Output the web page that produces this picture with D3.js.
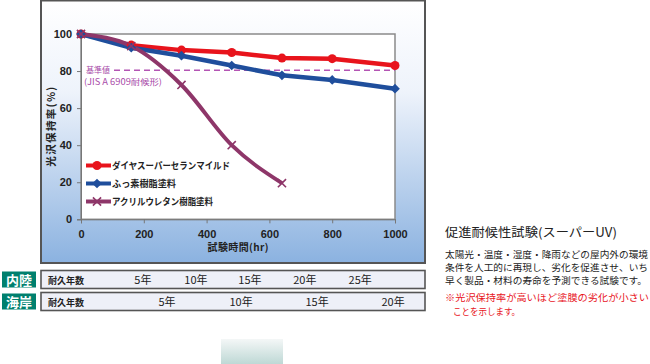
<!DOCTYPE html>
<html><head><meta charset="utf-8">
<script src="https://cdn.jsdelivr.net/npm/d3@7"></script>
<style>
html,body{margin:0;padding:0;background:#fff;}
svg{display:block;font-family:"Noto Sans CJK JP","Noto Sans",sans-serif;}
</style></head>
<body><svg id="c" width="650" height="364"></svg>
<script>
// ---- data ----
const hours = [0, 160, 320, 480, 640, 800, 1000];
const seriesNames = ["ダイヤスーパーセランマイルド", "ふっ素樹脂塗料", "アクリルウレタン樹脂塗料"];
const redValues = [100, 94, 91.3, 90, 87, 86.7, 83];
const blueValues = [100, 92.6, 88.3, 83, 77.7, 75.2, 70.5];
const purpleHours = [0, 160, 320, 480, 640];
const purpleValues = [100, 93.5, 72.5, 40, 19.5];
const xTicks = [0, 200, 400, 600, 800, 1000];
const yTicks = [0, 20, 40, 60, 80, 100];
const refValue = 80.4;
const inlandYears = ["5年", "10年", "15年", "20年", "25年"];
const inlandHours = [197, 366, 538, 713, 889];
const coastYears = ["5年", "10年", "15年", "20年"];
const coastHours = [274, 510, 752, 994];

const svg = d3.select("#c");
const defs = svg.append("defs");
const g1 = defs.append("linearGradient").attr("id","panelGrad").attr("x1",0).attr("y1",0).attr("x2",0).attr("y2",1);
g1.append("stop").attr("offset","0%").attr("stop-color","#ffffff");
g1.append("stop").attr("offset","35%").attr("stop-color","#eef3fb");
g1.append("stop").attr("offset","100%").attr("stop-color","#8bb2e0");
const g2 = defs.append("linearGradient").attr("id","grayGrad").attr("x1",0).attr("y1",0).attr("x2",0).attr("y2",1);
g2.append("stop").attr("offset","0%").attr("stop-color","#f4f7f7");
g2.append("stop").attr("offset","100%").attr("stop-color","#bed8d5");

// panel
svg.append("rect").attr("x",41).attr("y",0.5).attr("width",384).attr("height",262.5)
  .attr("fill","url(#panelGrad)").attr("stroke","#555").attr("stroke-width",2);

const x = d3.scaleLinear().domain([0,1000]).range([81,395]);
const y = d3.scaleLinear().domain([0,100]).range([219.3,34]);

// plot area
svg.append("rect").attr("x",x(0)).attr("y",y(100)).attr("width",x(1000)-x(0)).attr("height",y(0)-y(100))
  .attr("fill","#fff").attr("stroke","#8a8a8a").attr("stroke-width",1.5);

// axes
const yAxis = svg.append("g").attr("transform",`translate(${x(0)},0)`)
  .call(d3.axisLeft(y).tickValues(yTicks).tickFormat(d3.format("d")).tickSize(4).tickPadding(5));
const xAxis = svg.append("g").attr("transform",`translate(0,${y(0)})`)
  .call(d3.axisBottom(x).tickValues(xTicks).tickFormat(d3.format("d")).tickSize(4).tickPadding(7));
[yAxis,xAxis].forEach(a=>{
  a.select(".domain").attr("stroke","#777");
  a.selectAll(".tick line").attr("stroke","#777");
  a.selectAll(".tick text").attr("font-size",11).attr("font-weight","bold").attr("fill","#222")
    .attr("font-family","Arial, 'Liberation Sans', sans-serif");
});

// axis titles
svg.append("text").attr("transform",`translate(55,${(y(0)+y(100))/2}) rotate(-90)`)
  .attr("text-anchor","middle").attr("font-size",10.5).attr("font-weight","bold").attr("fill","#222")
  .attr("textLength",80).attr("lengthAdjust","spacing")
  .text("光沢保持率(%)");
svg.append("text").attr("x",(x(0)+x(1000))/2).attr("y",251).attr("text-anchor","middle")
  .attr("font-size",10).attr("font-weight","bold").attr("fill","#222")
  .attr("textLength",61).attr("lengthAdjust","spacing").text("試験時間(hr)");

// reference line
svg.append("line").attr("x1",114).attr("x2",x(1000)).attr("y1",y(refValue)).attr("y2",y(refValue))
  .attr("stroke","#b455b4").attr("stroke-width",1.6).attr("stroke-dasharray","6,4");
svg.append("text").attr("x",86).attr("y",y(refValue)+3).attr("font-size",8.5).attr("fill","#a84aa8")
  .attr("textLength",24).attr("lengthAdjust","spacingAndGlyphs").text("基準値");
svg.append("text").attr("x",84).attr("y",y(refValue)+14.3).attr("font-size",8.5).attr("fill","#a84aa8")
  .attr("textLength",78).attr("lengthAdjust","spacingAndGlyphs").text("(JIS A 6909耐候形)");

const red = "#e8141c", blue = "#1f4e9c", purple = "#8e3669";

// lines
const lineStraight = d3.line().x(d=>x(d[0])).y(d=>y(d[1]));
const lineCurve = d3.line().x(d=>x(d[0])).y(d=>y(d[1])).curve(d3.curveMonotoneX);
const blueData = hours.map((h,i)=>[h,blueValues[i]]);
const redData = hours.map((h,i)=>[h,redValues[i]]);
const purpleData = purpleHours.map((h,i)=>[h,purpleValues[i]]);

svg.append("path").attr("d",lineStraight(redData)).attr("fill","none").attr("stroke",red).attr("stroke-width",4.5).attr("stroke-linejoin","round");
svg.append("path").attr("d",lineStraight(blueData)).attr("fill","none").attr("stroke",blue).attr("stroke-width",4.5).attr("stroke-linejoin","round");
svg.append("path").attr("d",lineCurve(purpleData)).attr("fill","none").attr("stroke",purple).attr("stroke-width",4).attr("stroke-linejoin","round");

function circle(sel,cx,cy){ sel.append("circle").attr("cx",cx).attr("cy",cy).attr("r",4.5).attr("fill",red); }
function diamond(sel,cx,cy){ sel.append("path").attr("d",d3.symbol(d3.symbolDiamond2,60)()).attr("transform",`translate(${cx},${cy})`).attr("fill",blue); }
function cross(sel,cx,cy){ sel.append("path").attr("d",d3.symbol(d3.symbolTimes,45)()).attr("transform",`translate(${cx},${cy})`).attr("fill","none").attr("stroke",purple).attr("stroke-width",1.6); }

redData.forEach(d=>circle(svg,x(d[0]),y(d[1])));
blueData.forEach(d=>diamond(svg,x(d[0]),y(d[1])));
purpleData.forEach(d=>cross(svg,x(d[0]),y(d[1])));

// legend
const legY = [165.5, 183.5, 201.5];
const legColors = [red, blue, purple];
const legMarkers = [circle, diamond, cross];
const legWidths = [118, 64, 101];
seriesNames.forEach((n,i)=>{
  svg.append("line").attr("x1",86).attr("x2",111).attr("y1",legY[i]).attr("y2",legY[i]).attr("stroke",legColors[i]).attr("stroke-width",4);
  legMarkers[i](svg,97,legY[i]);
  svg.append("text").attr("x",112).attr("y",legY[i]+3.5).attr("font-size",9.5).attr("font-weight","bold").attr("fill","#222")
    .attr("textLength",legWidths[i]).attr("lengthAdjust","spacingAndGlyphs").text(n);
});

// durability rows
function row(y0, label, years, hrs){
  svg.append("rect").attr("x",2).attr("y",y0+1).attr("width",34).attr("height",16).attr("fill","#00806e");
  svg.append("text").attr("x",19).attr("y",y0+14).attr("text-anchor","middle").attr("font-size",13).attr("font-weight","bold").attr("fill","#fff").text(label);
  svg.append("rect").attr("x",41).attr("y",y0).attr("width",384).attr("height",18).attr("fill","#eef0f8").attr("stroke","#555").attr("stroke-width",1.6);
  svg.append("text").attr("x",48).attr("y",y0+13).attr("font-size",9).attr("font-weight","bold").attr("fill","#222").text("耐久年数");
  years.forEach((t,i)=>{
    svg.append("text").attr("x",x(hrs[i])).attr("y",y0+13.5).attr("text-anchor","middle").attr("font-size",11).attr("fill","#222").text(t);
  });
}
row(270.5, "内陸", inlandYears, inlandHours);
row(292.5, "海岸", coastYears, coastHours);

// gray gradient block
svg.append("rect").attr("x",221).attr("y",339).attr("width",62).attr("height",25).attr("fill","url(#grayGrad)");

// right text
svg.append("text").attr("x",445).attr("y",237).attr("font-size",12.5).attr("fill","#222")
  .attr("textLength",172).attr("lengthAdjust","spacingAndGlyphs").text("促進耐候性試験(スーパーUV)");
const body = ["太陽光・温度・湿度・降雨などの屋内外の環境","条件を人工的に再現し、劣化を促進させ、いち","早く製品・材料の寿命を予測できる試験です。"];
const bodyW = [203, 203, 202];
body.forEach((t,i)=>svg.append("text").attr("x",445).attr("y",257.5+i*13.3).attr("font-size",9.5).attr("fill","#222")
  .attr("textLength",bodyW[i]).attr("lengthAdjust","spacingAndGlyphs").text(t));
svg.append("text").attr("x",445).attr("y",301).attr("font-size",9.5).attr("fill","#e8141c")
  .attr("textLength",204).attr("lengthAdjust","spacingAndGlyphs").text("※光沢保持率が高いほど塗膜の劣化が小さい");
svg.append("text").attr("x",453).attr("y",315).attr("font-size",9.5).attr("fill","#e8141c")
  .attr("textLength",67).attr("lengthAdjust","spacingAndGlyphs").text("ことを示します。");
</script></body></html>
